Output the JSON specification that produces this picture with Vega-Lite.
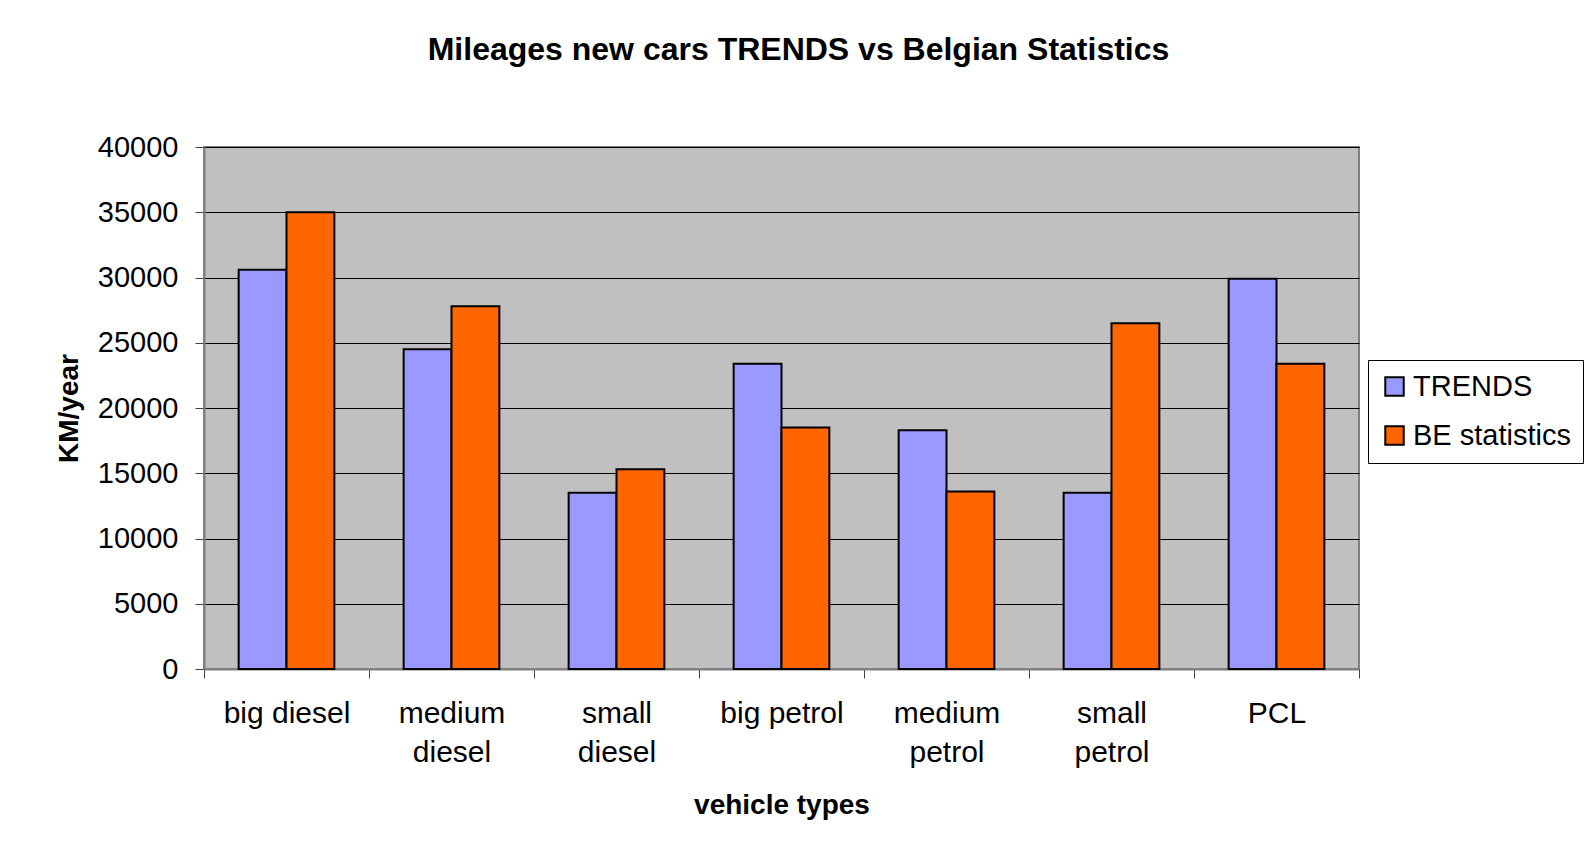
{
  "$schema": "https://vega.github.io/schema/vega-lite/v6.json",
  "autosize": "none",
  "width": 1155,
  "height": 522,
  "padding": {"left": 204, "top": 147, "right": 226, "bottom": 191},
  "background": "white",
  "title": {
    "text": "Mileages new cars TRENDS vs Belgian Statistics",
    "font": "Liberation Sans",
    "fontSize": 32,
    "fontWeight": "bold",
    "color": "black",
    "anchor": "middle",
    "dx": 17,
    "offset": 66
  },
  "data": {
    "values": [
      {"type": "big diesel", "series": "TRENDS", "km": 30600},
      {"type": "big diesel", "series": "BE statistics", "km": 35000},
      {"type": "medium diesel", "series": "TRENDS", "km": 24500},
      {"type": "medium diesel", "series": "BE statistics", "km": 27800},
      {"type": "small diesel", "series": "TRENDS", "km": 13500},
      {"type": "small diesel", "series": "BE statistics", "km": 15300},
      {"type": "big petrol", "series": "TRENDS", "km": 23400},
      {"type": "big petrol", "series": "BE statistics", "km": 18500},
      {"type": "medium petrol", "series": "TRENDS", "km": 18300},
      {"type": "medium petrol", "series": "BE statistics", "km": 13600},
      {"type": "small petrol", "series": "TRENDS", "km": 13500},
      {"type": "small petrol", "series": "BE statistics", "km": 26500},
      {"type": "PCL", "series": "TRENDS", "km": 29900},
      {"type": "PCL", "series": "BE statistics", "km": 23400}
    ]
  },
  "mark": {"type": "bar", "stroke": "black", "strokeWidth": 2},
  "encoding": {
    "x": {
      "field": "type",
      "type": "nominal",
      "sort": ["big diesel", "medium diesel", "small diesel", "big petrol", "medium petrol", "small petrol", "PCL"],
      "scale": {"paddingInner": 0, "paddingOuter": 0},
      "title": "vehicle types",
      "axis": {
        "labelAngle": 0,
        "labelExpr": "(datum.label == 'big diesel' || datum.label == 'big petrol') ? datum.label : split(datum.label, ' ')",
        "labelFont": "Liberation Sans",
        "labelFontSize": 30,
        "labelColor": "black",
        "labelLineHeight": 39,
        "labelPadding": 20,
        "labelLimit": 300,
        "tickBand": "extent",
        "tickSize": 9,
        "tickColor": "#404040",
        "domainColor": "#808080",
        "domainWidth": 2,
        "grid": false,
        "titleFont": "Liberation Sans",
        "titleFontSize": 28,
        "titleFontWeight": "bold",
        "titleColor": "black",
        "titlePadding": 24
      }
    },
    "xOffset": {
      "field": "series",
      "type": "nominal",
      "sort": ["TRENDS", "BE statistics"],
      "scale": {"paddingInner": 0, "paddingOuter": 0.724}
    },
    "y": {
      "field": "km",
      "type": "quantitative",
      "scale": {"domain": [0, 40000], "nice": false},
      "title": "KM/year",
      "axis": {
        "values": [0, 5000, 10000, 15000, 20000, 25000, 30000, 35000, 40000],
        "format": "d",
        "labelFont": "Liberation Sans",
        "labelFontSize": 29,
        "labelColor": "black",
        "labelPadding": 17,
        "tickSize": 9,
        "tickColor": "#404040",
        "domainColor": "#808080",
        "domainWidth": 2,
        "gridColor": "black",
        "gridWidth": 1.2,
        "titleFont": "Liberation Sans",
        "titleFontSize": 28,
        "titleFontWeight": "bold",
        "titleColor": "black",
        "titlePadding": 14
      }
    },
    "color": {
      "field": "series",
      "type": "nominal",
      "sort": ["TRENDS", "BE statistics"],
      "scale": {"domain": ["TRENDS", "BE statistics"], "range": ["#9999FF", "#FF6600"]},
      "legend": {
        "title": null,
        "orient": "none",
        "legendX": 1164,
        "legendY": 213,
        "strokeColor": "black",
        "fillColor": "white",
        "padding": 12,
        "symbolType": "square",
        "symbolSize": 340,
        "symbolStrokeColor": "black",
        "symbolStrokeWidth": 2,
        "labelFont": "Liberation Sans",
        "labelFontSize": 29,
        "labelColor": "black",
        "labelOffset": 4,
        "labelLimit": 400,
        "rowPadding": 19
      }
    }
  },
  "config": {
    "view": {"fill": "#C0C0C0", "stroke": "#808080", "strokeWidth": 2}
  }
}
